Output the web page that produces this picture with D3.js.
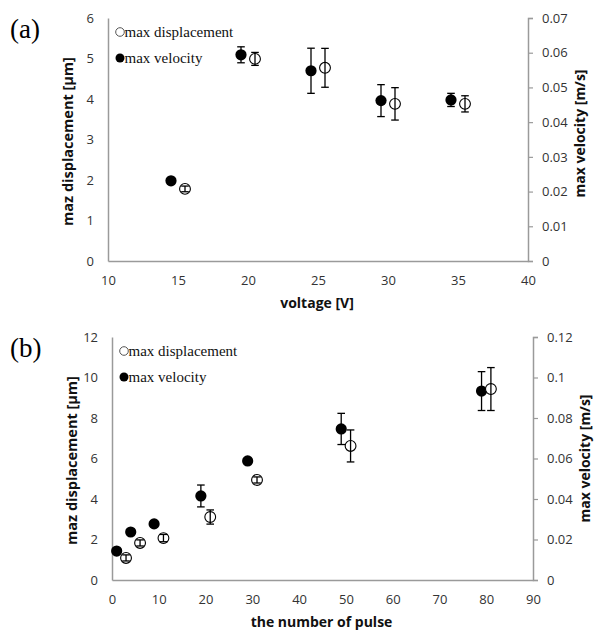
<!DOCTYPE html>
<html><head><meta charset="utf-8">
<script src="https://cdn.jsdelivr.net/npm/d3@7"></script>
<style>
html,body{margin:0;padding:0;background:#fff;}
svg{display:block;}
</style></head>
<body>
<svg id="chart" width="595" height="631"></svg>
<script>
// ---------- Data: panel (a) ----------
const aVelX = [14.5, 19.5, 24.5, 29.5, 34.5];
const aVel = [0.0231, 0.0594, 0.0548, 0.0462, 0.0464];
const aVelErr = [0.0004, 0.0023, 0.0065, 0.0046, 0.0019];
const aDispX = [15.5, 20.5, 25.5, 30.5, 35.5];
const aDisp = [1.78, 4.99, 4.77, 3.88, 3.88];
const aDispErr = [0.07, 0.16, 0.48, 0.40, 0.20];
const aXTicks = [10, 15, 20, 25, 30, 35, 40];
const aYTicks = [0, 1, 2, 3, 4, 5, 6];
const aY2Ticks = [0, 0.01, 0.02, 0.03, 0.04, 0.05, 0.06, 0.07];

// ---------- Data: panel (b) ----------
const bVelX = [1, 4, 9, 19, 29, 49, 79];
const bVel = [0.0143, 0.0237, 0.0277, 0.0415, 0.0588, 0.0746, 0.0933];
const bVelErr = [0.0003, 0.0003, 0.0003, 0.0054, 0.0004, 0.0077, 0.0096];
const bDispX = [3, 6, 11, 21, 31, 51, 81];
const bDisp = [1.09, 1.83, 2.07, 3.11, 4.94, 6.62, 9.43];
const bDispErr = [0.15, 0.15, 0.18, 0.35, 0.15, 0.79, 1.06];
const bXTicks = [0, 10, 20, 30, 40, 50, 60, 70, 80, 90];
const bYTicks = [0, 2, 4, 6, 8, 10, 12];
const bY2Ticks = [0, 0.02, 0.04, 0.06, 0.08, 0.1, 0.12];

const svg = d3.select("#chart");
const tickFont = "'Open Sans', 'Liberation Sans', sans-serif";
const axisColor = "#9a9a9a";

function panel(cfg) {
  const g = svg.append("g");
  const x = d3.scaleLinear().domain(cfg.xDomain).range([cfg.left, cfg.right]);
  const y = d3.scaleLinear().domain(cfg.yDomain).range([cfg.bottom, cfg.top]);
  const y2 = d3.scaleLinear().domain(cfg.y2Domain).range([cfg.bottom, cfg.top]);

  const la = g.append("g").attr("transform", `translate(${cfg.left},0)`)
    .call(d3.axisLeft(y).tickValues(cfg.yTicks).tickSize(0).tickPadding(14).tickFormat(d3.format("")));
  const ra = g.append("g").attr("transform", `translate(${cfg.right},0)`)
    .call(d3.axisRight(y2).tickValues(cfg.y2Ticks).tickSize(5).tickPadding(9).tickFormat(d => d === 0 ? "0" : String(+d.toFixed(3))));
  const ba = g.append("g").attr("transform", `translate(0,${cfg.bottom})`)
    .call(d3.axisBottom(x).tickValues(cfg.xTicks).tickSize(0).tickPadding(15).tickFormat(d3.format("")));

  [la, ra, ba].forEach(a => {
    a.select(".domain").attr("stroke", axisColor).attr("stroke-width", 1.5);
    a.selectAll(".tick line").attr("stroke", axisColor).attr("stroke-width", 1.2);
    a.selectAll(".tick text").attr("fill", "#333").style("font-family", tickFont).style("font-size", "13px");
  });

  g.append("text").attr("x", (cfg.left + cfg.right) / 2 - 1).attr("y", cfg.bottom + 47)
    .attr("text-anchor", "middle").style("font-family", tickFont).style("font-weight", "bold")
    .style("font-size", "14px").attr("fill", "#111").text(cfg.xTitle);
  g.append("text").attr("transform", `translate(${cfg.left - 35},${(cfg.top + cfg.bottom) / 2 + 2}) rotate(-90)`)
    .attr("text-anchor", "middle").style("font-family", tickFont).style("font-weight", "bold")
    .style("font-size", "14.5px").attr("fill", "#111").text("maz displacement  [µm]");
  g.append("text").attr("transform", `translate(${cfg.right + 57},${(cfg.top + cfg.bottom) / 2 + cfg.rOff}) rotate(-90)`)
    .attr("text-anchor", "middle").style("font-family", tickFont).style("font-weight", "bold")
    .style("font-size", "14px").attr("fill", "#111").text("max velocity  [m/s]");

  g.append("text").attr("x", 10).attr("y", cfg.top + 20)
    .style("font-family", "'Liberation Serif', serif").style("font-size", "27px").attr("fill", "#000").text(cfg.label);

  const lg = g.append("g").style("font-family", "'Liberation Serif', serif").style("font-size", "15px");
  lg.append("circle").attr("cx", cfg.left + 12).attr("cy", cfg.top + 14).attr("r", 4.3)
    .attr("fill", "#fff").attr("stroke", "#555").attr("stroke-width", 1);
  lg.append("text").attr("x", cfg.left + 16.5).attr("y", cfg.top + 19).attr("fill", "#111").text("max displacement");
  lg.append("circle").attr("cx", cfg.left + 12).attr("cy", cfg.top + 40).attr("r", 4.5).attr("fill", "#000");
  lg.append("text").attr("x", cfg.left + 16.5).attr("y", cfg.top + 45).attr("fill", "#111").text("max velocity");

  function errBars(xs, ys, es, sc) {
    const eb = g.append("g").attr("stroke", "#000").attr("stroke-width", 1.3).attr("fill", "none");
    xs.forEach((xv, i) => {
      const cx = x(xv), y0 = sc(ys[i] - es[i]), y1 = sc(ys[i] + es[i]);
      eb.append("line").attr("x1", cx).attr("x2", cx).attr("y1", y0).attr("y2", y1);
      eb.append("line").attr("x1", cx - 3.8).attr("x2", cx + 3.8).attr("y1", y0).attr("y2", y0);
      eb.append("line").attr("x1", cx - 3.8).attr("x2", cx + 3.8).attr("y1", y1).attr("y2", y1);
    });
  }

  errBars(cfg.velX, cfg.vel, cfg.velErr, y2);
  g.append("g").selectAll("circle").data(cfg.velX).join("circle")
    .attr("cx", d => x(d)).attr("cy", (d, i) => y2(cfg.vel[i])).attr("r", 5.6).attr("fill", "#000");

  g.append("g").selectAll("circle").data(cfg.dispX).join("circle")
    .attr("cx", d => x(d)).attr("cy", (d, i) => y(cfg.disp[i])).attr("r", 5.4)
    .attr("fill", "#fff").attr("stroke", "#000").attr("stroke-width", 1.1);
  errBars(cfg.dispX, cfg.disp, cfg.dispErr, y);
}

panel({
  label: "(a)", left: 108, right: 528, top: 18, bottom: 261, rOff: -6,
  xDomain: [10, 40], yDomain: [0, 6], y2Domain: [0, 0.07],
  xTicks: aXTicks, yTicks: aYTicks, y2Ticks: aY2Ticks, xTitle: "voltage [V]",
  velX: aVelX, vel: aVel, velErr: aVelErr, dispX: aDispX, disp: aDisp, dispErr: aDispErr
});
panel({
  label: "(b)", left: 112, right: 533, top: 337, bottom: 580, rOff: 0,
  xDomain: [0, 90], yDomain: [0, 12], y2Domain: [0, 0.12],
  xTicks: bXTicks, yTicks: bYTicks, y2Ticks: bY2Ticks, xTitle: "the number of pulse",
  velX: bVelX, vel: bVel, velErr: bVelErr, dispX: bDispX, disp: bDisp, dispErr: bDispErr
});
</script>
</body></html>
